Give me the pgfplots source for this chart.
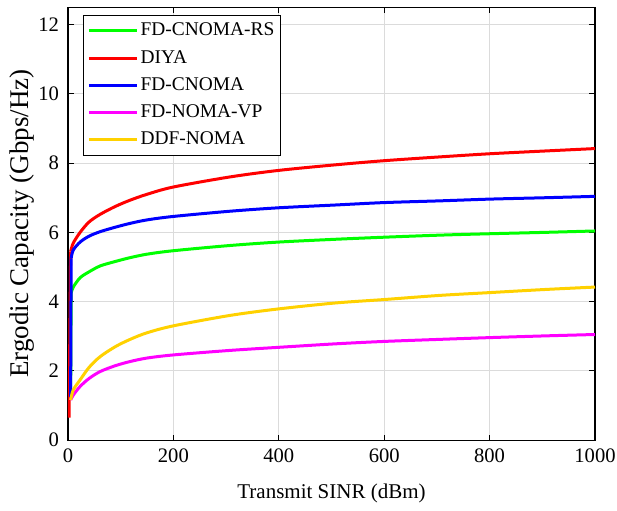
\documentclass[border=0pt]{standalone}
\usepackage{fontspec}
\setmainfont{Liberation Serif}
\usepackage{pgfplots}
\pgfplotsset{compat=1.18}
\definecolor{cgreen}{rgb}{0,1,0}
\definecolor{cred}{rgb}{1,0,0}
\definecolor{cblue}{rgb}{0,0,1}
\definecolor{cmag}{rgb}{1,0,1}
\definecolor{cyel}{rgb}{1,0.82,0}
\begin{document}
\begin{tikzpicture}
\begin{axis}[
  scale only axis, width=263.5pt, height=216.4pt,
  xmin=0, xmax=1000, ymin=0, ymax=12.5,
  xtick={0,200,...,1000}, ytick={0,2,...,12},
  grid=major, grid style={color=black!14, line width=0.5pt},
  tick align=inside, major tick length=2.8pt,
  axis line style={line width=0.6pt},
  tick style={black, line width=0.6pt},
  /pgf/number format/assume math mode=true,
  /pgf/number format/1000 sep={},
  scaled ticks=false,
  ticklabel style={font=\fontsize{10.3}{12}\selectfont},
  yticklabel style={xshift=-1pt},
  xticklabel style={yshift=-1pt},
  xlabel={Transmit SINR (dBm)},
  ylabel={Ergodic Capacity (Gbps/Hz)},
  xlabel style={font=\fontsize{10.5}{12}\selectfont, at={(axis description cs:0.5,0)}, anchor=center, yshift=-26.5pt},
  ylabel style={font=\fontsize{13.5}{15}\selectfont, at={(axis description cs:0,0.5)}, anchor=center, yshift=23pt},
  legend style={at={(0,1)}, anchor=north west, xshift=7.35pt, yshift=-3.85pt,
    draw=black, line width=0.6pt, font=\fontsize{9.7}{11}\selectfont,
    inner xsep=2pt, inner ysep=2.5pt, row sep=3.3pt,
    nodes={inner sep=1.2pt}},
  legend cell align=left,
  legend image code/.code={\draw[#1, line width=1.5pt] (0pt,0pt) -- (24pt,0pt);},
  every axis plot/.append style={line width=1.5pt},
]
% FD-CNOMA-RS
\addplot[cgreen, forget plot] coordinates {(5,1.2)(6,4.25)};
\addplot[cgreen, smooth, tension=0.5] coordinates {(6,4.25)(10,4.42)(23,4.69)(40,4.86)(61,5.03)(90,5.16)(118,5.27)(150,5.37)(200,5.47)(307,5.62)(400,5.72)(507,5.80)(600,5.86)(706,5.92)(800,5.96)(905,6.00)(1000,6.04)};
\addlegendentry{FD-CNOMA-RS\hspace{2.5pt}}
% DIYA
\addplot[cred, forget plot] coordinates {(2,0.65)(5,5.45)};
\addplot[cred, smooth, tension=0.5] coordinates {(5,5.45)(10,5.69)(23,6.00)(40,6.30)(61,6.52)(90,6.75)(118,6.93)(150,7.10)(200,7.31)(307,7.60)(400,7.79)(507,7.95)(600,8.07)(706,8.18)(800,8.27)(905,8.35)(1000,8.42)};
\addlegendentry{DIYA}
% FD-CNOMA
\addplot[cblue, forget plot] coordinates {(5,1.25)(6,5.25)};
\addplot[cblue, smooth, tension=0.5] coordinates {(6,5.25)(10,5.49)(23,5.72)(40,5.89)(61,6.02)(90,6.15)(118,6.26)(150,6.36)(200,6.46)(307,6.61)(400,6.71)(507,6.79)(600,6.86)(706,6.91)(800,6.96)(905,7.00)(1000,7.04)};
\addlegendentry{FD-CNOMA}
% FD-NOMA-VP
\addplot[cmag, smooth, tension=0.5] coordinates {(5,1.16)(10,1.30)(23,1.55)(40,1.78)(61,1.98)(90,2.15)(118,2.27)(150,2.37)(200,2.46)(307,2.59)(400,2.68)(507,2.78)(600,2.85)(706,2.91)(800,2.96)(905,3.01)(1000,3.05)};
\addlegendentry{FD-NOMA-VP}
% DDF-NOMA
\addplot[cyel, smooth, tension=0.5] coordinates {(5,1.16)(10,1.45)(23,1.74)(40,2.10)(61,2.41)(90,2.70)(118,2.91)(150,3.10)(200,3.30)(307,3.60)(400,3.79)(507,3.96)(600,4.06)(706,4.18)(800,4.26)(905,4.35)(1000,4.42)};
\addlegendentry{DDF-NOMA}
\end{axis}
\pgfresetboundingbox
\path[use as bounding box] (-34pt,-35pt) rectangle (274.5pt,220.05pt);
\end{tikzpicture}
\end{document}
